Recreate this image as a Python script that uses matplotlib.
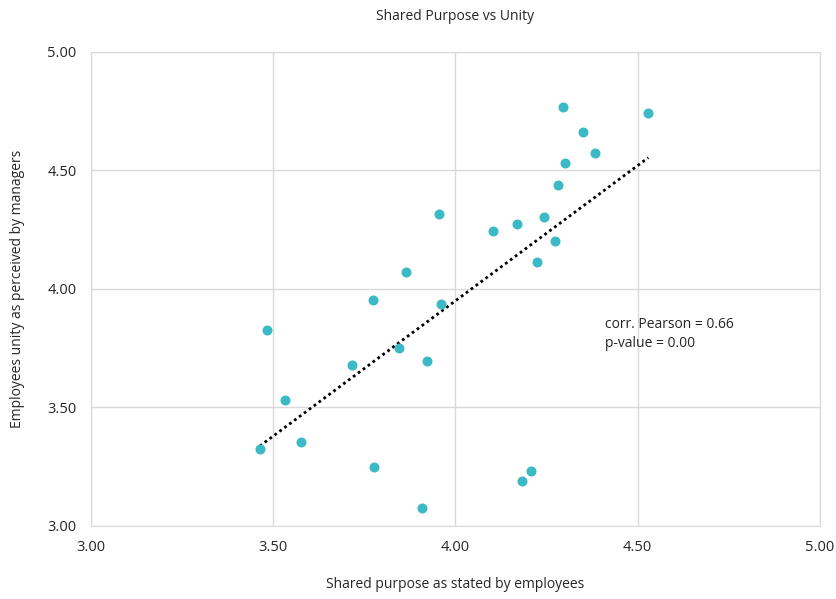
import numpy as np
import matplotlib
matplotlib.use("Agg")
import matplotlib.pyplot as plt

plt.rcParams['font.family'] = ['Open Sans', 'DejaVu Sans']

shared_purpose = [4.296, 4.529, 4.349, 4.384, 4.300, 4.282, 3.956, 4.242, 4.170,
                  4.102, 4.273, 4.223, 3.864, 3.774, 3.960, 3.483, 3.846, 3.716,
                  3.922, 3.532, 3.464, 3.578, 3.776, 4.208, 4.182, 3.910]
unity = [4.769, 4.744, 4.662, 4.575, 4.533, 4.437, 4.315, 4.304, 4.274,
         4.245, 4.203, 4.115, 4.073, 3.955, 3.938, 3.827, 3.751, 3.679,
         3.698, 3.533, 3.326, 3.356, 3.250, 3.233, 3.191, 3.075]
ticks = [3.00, 3.50, 4.00, 4.50, 5.00]
annotation = "corr. Pearson = 0.66\np-value = 0.00"

fig = plt.figure(figsize=(8.36, 5.99), dpi=100)
ax = fig.add_axes([0.1083, 0.1219, 0.981 - 0.1083, 0.9132 - 0.1219])

x = np.array(shared_purpose)
y = np.array(unity)
ax.scatter(x, y, s=52, color='#3BBAC5', zorder=3, linewidths=0)

m, b = np.polyfit(x, y, 1)
xs = np.array([x.min(), x.max()])
ax.plot(xs, m * xs + b, color='black', linestyle=(0, (1, 1.2)), linewidth=2, zorder=2)

ax.set_xlim(3, 5)
ax.set_ylim(3, 5)
ax.set_xticks(ticks)
ax.set_yticks(ticks)
ax.set_xticklabels([f"{t:.2f}" for t in ticks])
ax.set_yticklabels([f"{t:.2f}" for t in ticks])
ax.grid(True, color='#D9D9D9', linewidth=1)
ax.set_axisbelow(True)
for s in ax.spines.values():
    s.set_color('#D9D9D9')
ax.tick_params(length=0, labelsize=10.5, colors='#262626', pad=10)

ax.set_title("Shared Purpose vs Unity", fontsize=10, color='#262626', pad=23)
ax.set_xlabel("Shared purpose as stated by employees", fontsize=10, color='#262626', labelpad=16)
ax.set_ylabel("Employees unity as perceived by managers", fontsize=10, color='#262626', labelpad=16)

ax.text(4.41, 3.81, annotation, fontsize=10, color='#262626', ha='left', va='center', linespacing=1.4)

fig.savefig("out.png", dpi=100)
